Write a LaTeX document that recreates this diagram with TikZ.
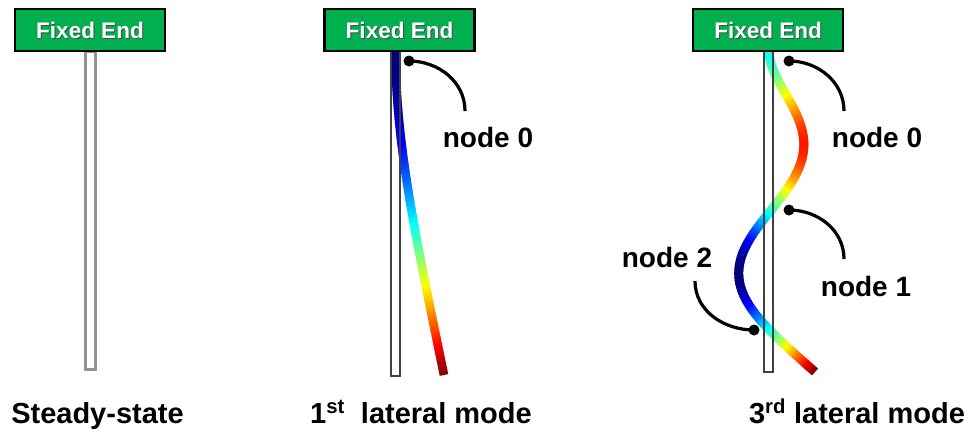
\documentclass[tikz,border=0pt]{standalone}
\usepackage{fontspec}
\setmainfont{Liberation Sans}
\begin{document}
\begin{tikzpicture}[x=1pt,y=-1pt,
  declare function={
    % cantilever mode shapes, tip deflection = 2
    modeA(\t)=cosh(1.8751*\t)-cos(deg(1.8751*\t))-0.734096*(sinh(1.8751*\t)-sin(deg(1.8751*\t)));
    modeC(\t)=0.5*exp(7.85476*\t-7.1613)+0.99961*exp(-7.85476*\t)-cos(deg(7.85476*\t))+0.999224*sin(deg(7.85476*\t));
    jetr(\v)=max(0,min(1,1.5-abs(4*\v-3)));
    jetg(\v)=max(0,min(1,1.5-abs(4*\v-2)));
    jetb(\v)=max(0,min(1,1.5-abs(4*\v-1)));
  },
  fixbox/.style={draw=black,line width=2.5,fill=fixgreen,minimum width=150,minimum height=42,inner sep=0pt},
  fixtext/.style={text=white,font=\fontsize{22.5}{24}\selectfont\bfseries},
  caption/.style={anchor=base,font=\fontsize{29}{32}\selectfont\bfseries},
  nodelabel/.style={font=\fontsize{28}{30}\selectfont\bfseries},
  leader/.style={line width=3.2,black},
  pin/.style={circle,fill=black,inner sep=0pt,minimum size=11},
  rodgray/.style={draw=gray!85,line width=3,fill=white},
  rodthin/.style={draw=black!75,line width=1.2},
]
\definecolor{fixgreen}{HTML}{00B050}
\useasboundingbox (0,0) rectangle (971,432);

% ---------- steady-state ----------
\draw[rodgray] (85.5,51) rectangle (95.5,369);
\node[fixbox] (boxA) at (90,30) {};
\node[fixtext,text=black!70] at (91,31.5) {Fixed End};
\node[fixtext] (labA) at (90,30) {Fixed End};
\node[caption] (capA) at (97.5,423) {Steady-state};

% ---------- 1st lateral mode ----------
\fill[white] (391,51) rectangle (400,376);
\foreach \i in {0,...,119}{
  \pgfmathsetmacro\ta{\i/120}
  \pgfmathsetmacro\tb{min(1,(\i+1.6)/120)}
  \pgfmathsetmacro\tm{(\i+0.5)/120}
  \pgfmathsetmacro\va{modeA(\tm)/2}
  \pgfmathsetmacro\cr{jetr(\va)}
  \pgfmathsetmacro\cg{jetg(\va)}
  \pgfmathsetmacro\cb{jetb(\va)}
  \definecolor{jc}{rgb}{\cr,\cg,\cb}
  \pgfmathsetmacro\xa{395.5+24.25*modeA(\ta)}
  \pgfmathsetmacro\xb{395.5+24.25*modeA(\tb)}
  \pgfmathsetmacro\ya{51+324*\ta}
  \pgfmathsetmacro\yb{51+324*\tb}
  \draw[jc,line width=8.5] (\xa,\ya) -- (\xb,\yb);
}
\draw[rodthin] (391,51) rectangle (400,376);
\node[fixbox] (boxB) at (399.5,30) {};
\node[fixtext,text=black!70] at (400.5,31.5) {Fixed End};
\node[fixtext] (labB) at (399.5,30) {Fixed End};
\node[pin] (pB0) at (409,61) {};
\coordinate (eB0) at (465,111);
\draw[leader] (pB0.center) to[out=0,in=90] (eB0);
\node[nodelabel] (tB0) at (488,137) {node 0};
\node[caption] (capB) at (421,423) {1\textsuperscript{st}\ \ lateral mode};

% ---------- 3rd lateral mode ----------
\fill[white] (764,51) rectangle (773,372);
\foreach \i in {0,...,179}{
  \pgfmathsetmacro\ta{\i/180}
  \pgfmathsetmacro\tb{min(1,(\i+1.6)/180)}
  \pgfmathsetmacro\tm{(\i+0.5)/180}
  \pgfmathsetmacro\va{(modeC(\tm)+1.282)/3.282}
  \pgfmathsetmacro\cr{jetr(\va)}
  \pgfmathsetmacro\cg{jetg(\va)}
  \pgfmathsetmacro\cb{jetb(\va)}
  \definecolor{jc}{rgb}{\cr,\cg,\cb}
  \pgfmathsetmacro\xa{769+23*modeC(\ta)}
  \pgfmathsetmacro\xb{769+23*modeC(\tb)}
  \pgfmathsetmacro\ya{51+321*\ta}
  \pgfmathsetmacro\yb{51+321*\tb}
  \draw[jc,line width=9] (\xa,\ya) -- (\xb,\yb);
}
\draw[rodthin] (764,51) rectangle (773,372);
\node[fixbox] (boxC) at (768,30) {};
\node[fixtext,text=black!70] at (769,31.5) {Fixed End};
\node[fixtext] (labC) at (768,30) {Fixed End};

\node[pin] (pC0) at (789,61) {};
\coordinate (eC0) at (844,111);
\draw[leader] (pC0.center) to[out=0,in=90] (eC0);
\node[nodelabel] (tC0) at (877,137) {node 0};

\node[pin] (pC1) at (789,210) {};
\coordinate (eC1) at (844,259);
\draw[leader] (pC1.center) to[out=0,in=90] (eC1);
\node[nodelabel] (tC1) at (866,286) {node 1};

\node[pin] (pC2) at (754,330) {};
\coordinate (eC2) at (695,281);
\draw[leader] (eC2) to[out=-90,in=180] (pC2.center);
\node[nodelabel] (tC2) at (667,257) {node 2};

\node[caption] (capC) at (857,423) {3\textsuperscript{rd} lateral mode};
\end{tikzpicture}
\end{document}
